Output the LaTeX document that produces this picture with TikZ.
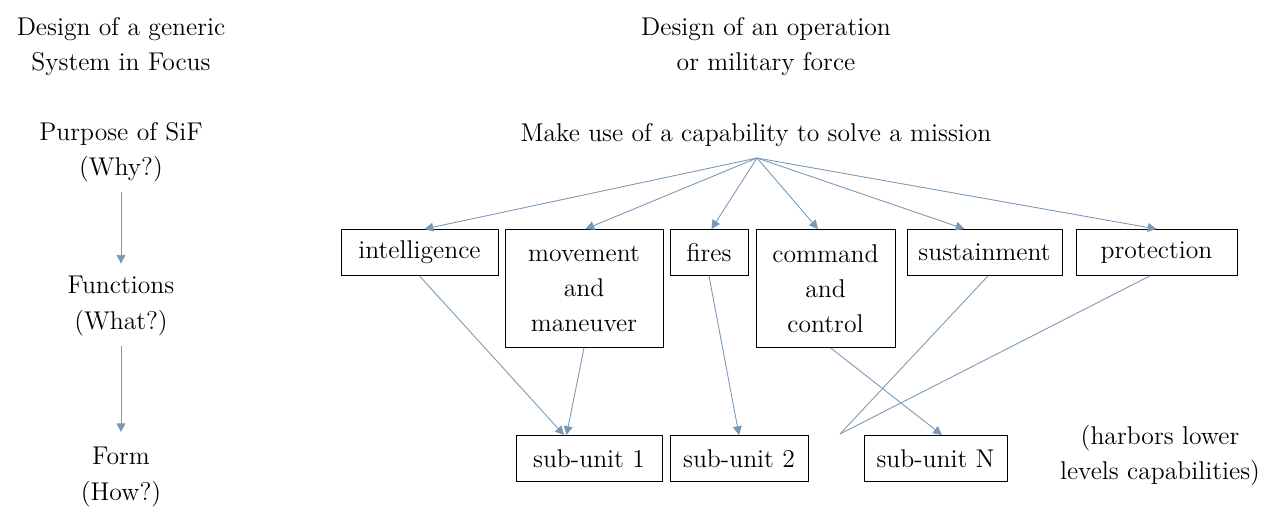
\documentclass[tikz,border=0pt]{standalone}
\usepackage{tikz}
\usetikzlibrary{arrows.meta,positioning}

\definecolor{linkblue}{RGB}{122,152,182}

\begin{document}
\begin{tikzpicture}[
  x=0.02cm,y=-0.02cm,
  every node/.style={font=\fontsize{14.6}{20}\selectfont},
  label/.style={align=center,inner sep=0pt},
  fn/.style={draw,line width=.5pt,anchor=north,minimum height=0.92cm,inner sep=2pt,align=center},
  link/.style={draw=linkblue,line width=.5pt,-{Triangle[length=5pt,width=5pt]}},
  plain/.style={draw=linkblue,line width=.5pt}
]
  \useasboundingbox (0,0) rectangle (1267,520);

  % left column
  \node[label] (genTitle) at (121,47) {Design of a generic\\System in Focus};
  \node[label] (why) at (121,152) {Purpose of SiF\\(Why?)};
  \node[label] (what) at (121,306) {Functions\\(What?)};
  \node[label] (how) at (121,477) {Form\\(How?)};
  \draw[link,shorten <=2mm,shorten >=2.5mm] (why) -- (what);
  \draw[link,shorten <=2mm,shorten >=3mm] (what) -- (how);

  % right column
  \node[label] (opTitle) at (766,47) {Design of an operation\\or military force};
  \node[label] (mission) at (756,135) {Make use of a capability to solve a mission};

  \node[fn,minimum width=3.14cm] (intel) at (419.5,229) {intelligence};
  \node[fn,minimum width=3.16cm,minimum height=2.36cm] (move) at (584,229) {movement\\and\\maneuver};
  \node[fn,minimum width=1.56cm] (fires) at (709,229) {fires};
  \node[fn,minimum width=2.78cm,minimum height=2.36cm] (cmd) at (825.5,229) {command\\and\\control};
  \node[fn,minimum width=3.10cm] (sust) at (984.5,229) {sustainment};
  \node[fn,minimum width=3.22cm] (prot) at (1156.5,229) {protection};

  \node[fn,minimum width=2.92cm] (sub1) at (589,435) {sub-unit 1};
  \node[fn,minimum width=2.76cm] (sub2) at (739,435) {sub-unit 2};
  \node[fn,minimum width=2.86cm] (subN) at (935.5,435) {sub-unit N};
  \node[label] (harbors) at (1160,456) {(harbors lower\\levels capabilities)};

  \coordinate (src) at (757,158);
  \coordinate (loose) at (840,434);

  \draw[link] (src) -- ([xshift=1mm]intel.north);
  \draw[link] (src) -- ([xshift=0.3mm]move.north);
  \draw[link] (src) -- ([xshift=0.5mm]fires.north);
  \draw[link] (src) -- ([xshift=-1.5mm]cmd.north);
  \draw[link] (src) -- ([xshift=-4mm]sust.north);
  \draw[link] (src) -- (prot.north);

  \draw[link] (intel.south) -- ([xshift=-5mm]sub1.north);
  \draw[link] (move.south) -- ([xshift=-4.5mm]sub1.north);
  \draw[link] (fires.south) -- (sub2.north);
  \draw[link] ([xshift=1mm]cmd.south) -- ([xshift=1.3mm]subN.north);
  \draw[plain] ([xshift=0.7mm]sust.south) -- (loose);
  \draw[plain] ([xshift=-1.3mm]prot.south) -- (loose);
\end{tikzpicture}
\end{document}
